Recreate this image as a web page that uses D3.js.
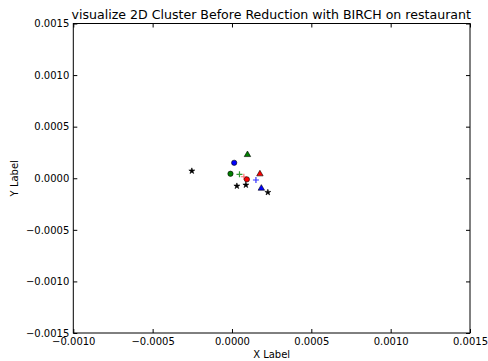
<!DOCTYPE html>
<html><head><meta charset="utf-8">
<script src="https://cdn.jsdelivr.net/npm/d3@7"></script>
<style>body{margin:0;background:#fff}svg{display:block}text{font-family:"DejaVu Sans",sans-serif}</style>
</head><body>
<script>
const title = "visualize 2D Cluster Before Reduction with BIRCH on restaurant";
const xTicks = [-0.0010, -0.0005, 0.0000, 0.0005, 0.0010, 0.0015];
const yTicks = [-0.0015, -0.0010, -0.0005, 0.0000, 0.0005, 0.0010, 0.0015];
const xs = [-0.000253, 0.0000976, 0.0000139, -0.0000095, 0.0000472, 0.0000749, 0.0000938, 0.000176, 0.000151, 0.0000308, 0.0000875, 0.000185, 0.000226];
const ys = [0.0000703, 0.000228, 0.000150, 0.0000436, 0.0000378, 0.0000145, -0.0000107, 0.0000412, -0.0000172, -0.0000756, -0.0000659, -0.0000979, -0.000137];
const colors = ["#000000","#008000","#0000ff","#008000","#008000","#ff0000","#ff0000","#ff0000","#0000ff","#000000","#000000","#0000ff","#000000"];
const markers = ["star","triangle","circle","circle","plus","plus","circle","triangle","plus","star","star","triangle","star"];

const W = 488, H = 361;
const m = {l:73.3, r:470, t:23.5, b:333};
const svg = d3.select("body").append("svg").attr("width",W).attr("height",H);
const x = d3.scaleLinear().domain([-0.001,0.0015]).range([m.l,m.r]);
const y = d3.scaleLinear().domain([-0.0015,0.0015]).range([m.b,m.t]);
const fmt = d => d3.format(".4f")(d).replace("-", "\u2212");

svg.append("rect").attr("x",m.l).attr("y",m.t).attr("width",m.r-m.l).attr("height",m.b-m.t)
  .attr("fill","none").attr("stroke","#000").attr("stroke-width",1);

const gx = svg.append("g").attr("transform",`translate(0,${m.b})`)
  .call(d3.axisBottom(x).tickValues(xTicks).tickFormat(fmt).tickSizeInner(-4).tickSizeOuter(0).tickPadding(4));
const gxt = svg.append("g").attr("transform",`translate(0,${m.t})`)
  .call(d3.axisTop(x).tickValues(xTicks).tickFormat("").tickSizeInner(-4).tickSizeOuter(0));
const gy = svg.append("g").attr("transform",`translate(${m.l},0)`)
  .call(d3.axisLeft(y).tickValues(yTicks).tickFormat(fmt).tickSizeInner(-4).tickSizeOuter(0).tickPadding(4));
const gyr = svg.append("g").attr("transform",`translate(${m.r},0)`)
  .call(d3.axisRight(y).tickValues(yTicks).tickFormat("").tickSizeInner(-4).tickSizeOuter(0));
[gx,gxt,gy,gyr].forEach(g=>{ g.select(".domain").remove(); g.selectAll("line").attr("stroke","#000");
  g.selectAll("text").attr("font-size",10).attr("fill","#000").attr("font-family","DejaVu Sans"); });
gx.selectAll("text").attr("dy","0.71em").attr("y",5);

const t = svg.append("text").attr("x",271.2).attr("y",18.5).attr("text-anchor","middle").attr("font-size",12).text(title);
const tw = t.node().getComputedTextLength();
if (tw > 0) t.attr("font-size", 12 * 400 / tw);
svg.append("text").attr("x",(m.l+m.r)/2).attr("y",358).attr("text-anchor","middle").attr("font-size",10).text("X Label");
svg.append("text").attr("transform",`translate(18,${(m.t+m.b)/2}) rotate(-90)`).attr("text-anchor","middle").attr("font-size",10).text("Y Label");

const sym = {circle:d3.symbolCircle, triangle:d3.symbolTriangle, star:d3.symbolStar};
const size = {circle:22, triangle:18, star:11};
const g = svg.append("g");
xs.forEach((xv,i)=>{
  const mk = markers[i], cx = x(xv), cy = y(ys[i]);
  if (mk === "plus") {
    g.append("path").attr("d",`M${cx-3},${cy}H${cx+3}M${cx},${cy-3}V${cy+3}`)
      .attr("stroke",colors[i]).attr("stroke-width",1.2).attr("fill","none")
      .attr("opacity", colors[i]==="#ff0000" ? 0.55 : 0.8);
  } else {
    g.append("path").attr("d", d3.symbol().type(sym[mk]).size(size[mk])())
      .attr("transform",`translate(${cx},${cy})`)
      .attr("fill",colors[i]).attr("stroke","#000").attr("stroke-width",0.6);
  }
});
</script>
</body></html>
